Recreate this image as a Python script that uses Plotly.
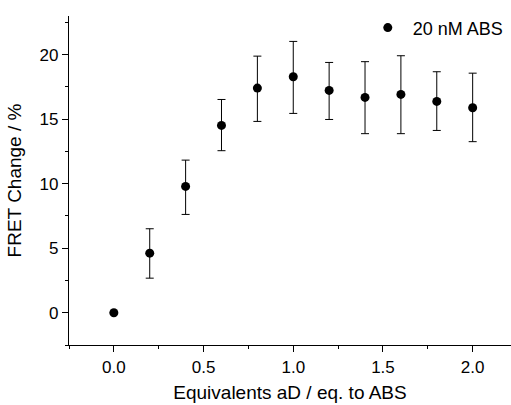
import plotly.graph_objects as go

equivalents = [0.0, 0.2, 0.4, 0.6, 0.8, 1.0, 1.2, 1.4, 1.6, 1.8, 2.0]
fret_change = [0.0, 4.62, 9.79, 14.52, 17.41, 18.29, 17.23, 16.69, 16.92, 16.38, 15.89]
err_upper = [0.0, 6.51, 11.83, 16.53, 19.89, 21.03, 19.40, 19.46, 19.92, 18.68, 18.57]
err_lower = [0.0, 2.68, 7.62, 12.56, 14.83, 15.45, 14.98, 13.88, 13.88, 14.13, 13.26]

plus = [u - v for u, v in zip(err_upper, fret_change)]
minus = [v - l for v, l in zip(fret_change, err_lower)]

font_family = "Liberation Sans, Arial, sans-serif"

fig = go.Figure()
fig.add_trace(go.Scatter(
    x=equivalents, y=fret_change, mode="markers", name="20 nM ABS",
    marker=dict(color="black", size=9),
    error_y=dict(type="data", array=plus, arrayminus=minus, symmetric=False,
                 color="black", thickness=1, width=4, visible=True),
))

fig.update_layout(
    width=511, height=405,
    margin=dict(l=69, r=0, t=16, b=60),
    paper_bgcolor="white", plot_bgcolor="white",
    font=dict(family=font_family, color="black", size=17),
    showlegend=True,
    legend=dict(x=0.995, xanchor="right", y=1.02, yanchor="top",
                bgcolor="rgba(0,0,0,0)", font=dict(size=18, color="black"),
                itemwidth=40),
)
fig.update_xaxes(
    range=[-0.25, 2.2137], tickmode="array",
    tickvals=[0, 0.5, 1.0, 1.5, 2.0], ticktext=["0.0", "0.5", "1.0", "1.5", "2.0"],
    showline=True, linecolor="black", linewidth=1.3, showgrid=False, zeroline=False,
    ticks="outside", ticklen=6, tickwidth=1, tickcolor="black",
    minor=dict(tickvals=[-0.25, 0.25, 0.75, 1.25, 1.75], ticks="outside", ticklen=3, tickwidth=1, tickcolor="black"),
    title=dict(text="Equivalents aD / eq. to ABS", font=dict(size=19, color="black"), standoff=10),
    tickfont=dict(size=17, color="black"),
)
fig.update_yaxes(
    range=[-2.5, 23], tickmode="array", tickvals=[0, 5, 10, 15, 20],
    showline=True, linecolor="black", linewidth=1.3, showgrid=False, zeroline=False,
    ticks="outside", ticklen=6, tickwidth=1, tickcolor="black",
    minor=dict(tickvals=[-2.5, 2.5, 7.5, 12.5, 17.5, 22.5], ticks="outside", ticklen=3, tickwidth=1, tickcolor="black"),
    title=dict(text="FRET Change / %", font=dict(size=19, color="black"), standoff=12),
    tickfont=dict(size=17, color="black"),
)

fig.write_html("out.html")
